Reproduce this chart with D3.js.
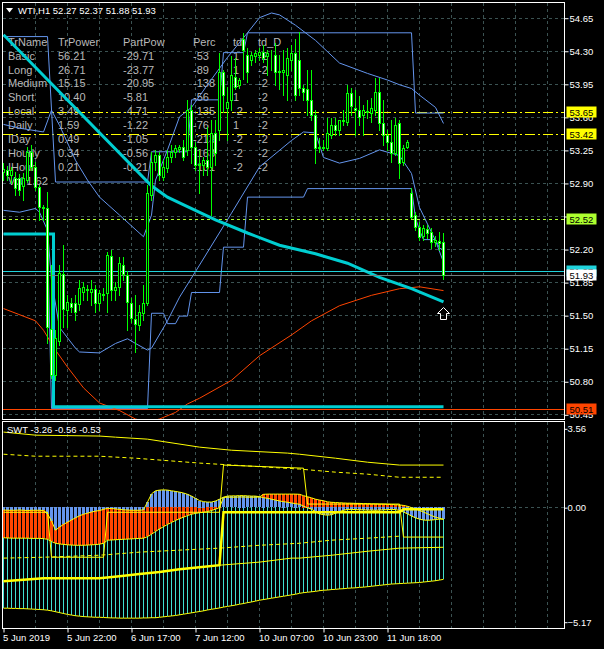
<!DOCTYPE html>
<html><head><meta charset="utf-8">
<script src="https://cdn.jsdelivr.net/npm/d3@7/dist/d3.min.js"></script>
<style>body{margin:0;background:#000;}svg{display:block;}text{font-family:"Liberation Sans",Arial,sans-serif;}</style>
</head><body>
<svg id="c" width="604" height="649"></svg>
<script>
// ---------- DATA ----------
const symbolTitle = "WTI,H1";
const lastOHLC = [52.27, 52.37, 51.88, 51.93];
const opens = [53.02,53.04,52.98,52.95,52.95,52.87,52.93,53.23,53.07,52.86,52.65,52.64,51.35,50.87,51.23,51.94,51.55,51.63,51.63,51.62,51.74,51.77,51.75,51.78,51.63,51.72,51.73,52.13,51.77,51.80,52.03,51.92,51.63,51.46,51.40,51.52,51.63,52.77,53.12,53.20,52.96,53.06,53.17,53.23,53.26,53.28,53.25,53.67,53.28,53.10,53.09,53.14,53.07,53.43,53.46,54.07,53.69,53.78,54.02,53.94,54.42,54.26,54.20,54.24,54.26,54.29,54.24,54.26,54.26,54.07,54.08,54.04,54.20,54.28,54.20,53.91,53.89,53.78,53.62,53.28,53.27,53.27,53.41,53.51,53.46,53.56,53.55,53.85,53.69,53.67,53.62,53.66,53.64,53.67,53.86,53.54,53.41,53.33,53.22,53.54,53.12,53.28,52.79,52.56,52.43,52.34,52.41,52.38,52.27,52.29,52.27];
const highs = [53.11,53.08,53.07,53.02,52.99,53.01,53.28,53.30,53.12,52.88,52.67,52.80,52.03,51.34,52.03,52.24,51.71,51.68,51.71,51.87,51.85,51.82,51.87,51.82,51.77,51.79,52.17,52.19,51.85,52.12,52.12,51.97,51.68,51.71,51.61,51.82,52.88,53.23,53.25,53.23,53.14,53.25,53.30,53.30,53.30,53.36,53.78,53.73,53.33,53.25,53.17,53.49,53.57,53.57,54.28,54.10,53.92,54.24,54.22,54.01,54.49,54.33,54.29,54.31,54.33,54.36,54.31,54.31,54.38,54.26,54.31,54.33,54.36,54.42,54.50,53.94,54.10,54.10,53.67,53.38,53.36,53.59,53.59,53.59,53.57,53.67,53.94,53.91,53.88,53.82,53.73,53.78,53.80,54.01,54.01,53.78,53.46,53.57,53.59,53.57,53.30,53.36,52.85,52.59,52.49,52.45,52.45,52.42,52.34,52.38,52.37];
const lows = [52.93,52.93,52.90,52.77,52.77,52.72,52.91,53.04,52.83,52.51,52.51,51.20,50.83,50.81,51.18,51.37,51.37,51.53,51.45,51.55,51.66,51.66,51.61,51.53,51.55,51.66,51.53,51.66,51.66,51.71,51.87,51.34,51.43,51.11,51.34,51.45,51.61,52.72,53.04,52.93,52.93,53.02,53.12,53.18,53.23,53.14,53.20,53.11,53.04,52.79,52.98,52.98,52.56,53.09,53.36,53.65,53.36,53.67,53.89,53.91,54.00,53.97,54.15,54.18,54.20,54.18,54.04,54.10,53.94,53.89,53.83,53.78,54.10,53.78,53.83,53.78,53.62,53.57,53.11,53.23,53.25,53.25,53.38,53.41,53.41,53.51,53.51,53.62,53.41,53.51,53.41,53.59,53.55,53.62,53.46,53.30,53.25,53.12,53.20,52.95,53.09,53.27,52.53,52.40,52.30,52.30,52.32,52.21,52.23,52.19,51.88];
const closes = [53.05,52.98,53.04,52.85,52.83,52.95,53.23,53.07,52.86,52.65,52.64,51.37,50.87,51.26,51.95,51.57,51.64,51.59,51.53,51.79,51.80,51.78,51.78,51.63,51.73,51.71,52.14,51.77,51.80,52.05,51.94,51.64,51.47,51.41,51.53,51.63,52.79,53.12,53.20,52.98,53.07,53.18,53.23,53.27,53.28,53.18,53.67,53.28,53.09,53.09,53.14,53.07,53.43,53.22,54.07,53.83,53.76,54.04,53.92,53.99,54.31,54.08,54.26,54.28,54.29,54.22,54.28,54.25,54.07,54.09,54.10,54.22,54.28,53.83,53.91,53.86,53.78,53.62,53.27,53.27,53.28,53.43,53.51,53.46,53.57,53.57,53.85,53.71,53.67,53.60,53.67,53.65,53.69,53.86,53.54,53.41,53.33,53.22,53.51,53.11,53.27,53.33,52.54,52.43,52.33,52.42,52.37,52.27,52.30,52.26,51.93];

// moving averages / channels as [barIndex, price] knots
const maCyan = [[0,54.47],[37,52.87],[41,52.75],[44,52.69],[53,52.51],[61,52.37],[69,52.24],[78,52.15],[86,52.05],[94,51.90],[102,51.78],[110,51.64]];
const maRed = [[0,51.57],[8,51.44],[10,51.34],[13,51.13],[16,50.95],[20,50.73],[24,50.57],[29,50.49],[33,50.40],[36,50.37],[39,50.40],[43,50.47],[46,50.56],[49,50.62],[57,50.81],[64,51.07],[72,51.29],[77,51.44],[84,51.60],[92,51.71],[99,51.78],[104,51.80],[110,51.76]];
const supportCyan = [[0,52.36],[12,52.36],[13,50.53],[110,50.53]];
const chanUpper = [[0,54.45],[11,54.45],[13,52.91],[36,52.91],[37,53.23],[46,53.23],[47,53.78],[54,53.78],[55,54.28],[60,54.28],[61,54.49],[102,54.49],[103,53.64],[110,53.64]];
const chanLower = [[0,52.36],[11,52.36],[12,50.51],[36,50.51],[37,51.52],[40,51.52],[41,51.41],[43,51.41],[44,51.49],[46,51.49],[47,51.74],[54,51.74],[55,52.22],[60,52.22],[61,52.75],[75,52.75],[76,52.84],[102,52.84],[103,52.53],[104,52.40],[105,52.30],[108,52.30],[109,52.21],[110,52.19]];
const bandUpper = [[0,53.52],[4,53.48],[10,53.44],[12,53.67],[14,53.51],[18,53.14],[21,52.93],[24,52.75],[29,52.56],[35,52.33],[37,52.56],[38,52.93],[41,53.25],[44,53.60],[47,53.70],[51,53.94],[56,54.23],[61,54.49],[64,54.65],[67,54.70],[69,54.68],[73,54.57],[78,54.41],[84,54.17],[91,54.06],[96,53.99],[99,53.94],[102,53.90],[104,53.83],[108,53.70],[110,53.53]];
const bandLower = [[0,52.61],[4,52.59],[8,52.63],[9,52.59],[11,52.40],[12,51.87],[14,51.37],[18,51.15],[19,51.11],[24,51.10],[28,51.20],[31,51.25],[33,51.20],[36,51.13],[37,51.15],[41,51.44],[44,51.69],[49,52.03],[57,52.58],[64,53.07],[72,53.35],[75,53.44],[78,53.43],[80,53.17],[84,53.11],[89,53.16],[94,53.25],[99,53.19],[102,53.00],[104,52.64],[108,52.29],[110,52.06]];

// horizontal levels
const levelsDashDot = [53.65, 53.42];
const levelDashed = 52.52;
const levelCyan = 51.97;
const levelBid = 51.93;
const levelRed = 50.51;
const arrowMark = [110, 51.52];

// price axis
const priceTicks = [54.65,54.30,53.95,53.60,53.25,52.90,52.55,52.20,51.85,51.50,51.15,50.80,50.45];
const xTickBars = [0,16,32,48,64,80,96];
const xTickLabels = ["5 Jun 2019","5 Jun 22:00","6 Jun 17:00","7 Jun 12:00","10 Jun 07:00","10 Jun 23:00","11 Jun 18:00"];

// table
const tableHeader = ["TrName","TrPower","PartPow","Perc","td","td_D"];
const trNames = ["Basic","Long","Medium","Short","Local","Daily","IDay","Hourly","IHour"];
const trPower = ["56.21","26.71","15.15","10.40","3.49","1.59","0.49","0.34","0.21"];
const partPow = ["-29.71","-23.77","-20.95","-5.81","-4.71","-1.22","-1.05","-0.56","-0.21"];
const perc = ["-53","-89","-138","-56","-135","-76","-213","-163","-101"];
const tdVals = ["1","1","1","1","-2","1","-2","-2","-2"];
const tdDVals = ["-2","-2","-2","-2","-2","-2","-2","-2","-2"];
const volRow = "Vol 1.62";

// SWT indicator
const swtTitle = "SWT -3.26 -0.56 -0.53";
const indTicks = [3.56, 0.00, -5.17];
const swtCyan = [-4.56,-4.56,-4.57,-4.57,-4.58,-4.58,-4.59,-4.60,-4.61,-4.62,-4.63,-4.65,-4.68,-4.72,-4.76,-4.80,-4.84,-4.87,-4.90,-4.92,-4.94,-4.95,-4.96,-4.97,-4.97,-4.98,-4.99,-5.00,-5.00,-5.01,-5.01,-5.01,-5.01,-5.01,-5.01,-5.00,-5.00,-4.99,-4.99,-4.97,-4.95,-4.93,-4.91,-4.89,-4.86,-4.83,-4.80,-4.77,-4.74,-4.71,-4.68,-4.64,-4.61,-4.58,-4.55,-4.51,-4.48,-4.45,-4.42,-4.38,-4.35,-4.31,-4.28,-4.24,-4.20,-4.17,-4.14,-4.11,-4.08,-4.05,-4.02,-3.99,-3.96,-3.93,-3.89,-3.86,-3.84,-3.82,-3.80,-3.77,-3.75,-3.74,-3.72,-3.71,-3.69,-3.68,-3.66,-3.65,-3.64,-3.62,-3.61,-3.59,-3.57,-3.55,-3.53,-3.51,-3.49,-3.47,-3.46,-3.45,-3.44,-3.43,-3.42,-3.41,-3.40,-3.38,-3.36,-3.34,-3.32,-3.29,-3.26];
const swtRed = [-1.38,-1.39,-1.40,-1.40,-1.40,-1.40,-1.40,-1.41,-1.41,-1.41,-1.42,-1.45,-1.55,-1.63,-1.66,-1.68,-1.70,-1.71,-1.72,-1.72,-1.72,-1.71,-1.70,-1.69,-1.67,-1.63,-1.49,-1.48,-1.47,-1.46,-1.45,-1.44,-1.43,-1.42,-1.41,-1.40,-1.33,-1.22,-1.10,-0.98,-0.88,-0.78,-0.69,-0.60,-0.52,-0.45,-0.38,-0.32,-0.28,-0.25,-0.23,-0.20,-0.15,-0.09,-0.02,0.44,0.45,0.45,0.45,0.46,0.46,0.45,0.45,0.45,0.46,0.58,0.59,0.59,0.59,0.59,0.59,0.59,0.59,0.59,0.58,0.52,0.47,0.42,0.36,0.32,0.29,0.24,0.22,0.21,0.20,0.19,0.18,0.18,0.17,0.17,0.16,0.16,0.15,0.15,0.14,0.14,0.13,0.12,0.11,0.10,0.08,0.04,-0.02,-0.08,-0.15,-0.22,-0.30,-0.38,-0.45,-0.50,-0.56];
const swtBlue = [-0.13,-0.14,-0.14,-0.14,-0.13,-0.14,-0.15,-0.14,-0.14,-0.14,-0.15,-0.30,-0.62,-1.04,-0.90,-0.78,-0.68,-0.58,-0.48,-0.39,-0.32,-0.27,-0.22,-0.18,-0.15,-0.10,-0.05,-0.06,-0.08,-0.10,-0.12,-0.13,-0.14,-0.14,-0.14,-0.12,0.23,0.60,0.74,0.77,0.78,0.77,0.74,0.71,0.68,0.64,0.58,0.50,0.40,0.30,0.25,0.23,0.23,0.28,0.36,0.45,0.50,0.51,0.51,0.52,0.52,0.51,0.50,0.50,0.47,0.43,0.40,0.36,0.32,0.28,0.25,0.22,0.19,0.16,0.13,0.05,-0.03,-0.09,-0.20,-0.30,-0.34,-0.36,-0.34,-0.27,-0.20,-0.14,-0.10,-0.10,-0.11,-0.12,-0.12,-0.13,-0.13,-0.14,-0.13,-0.12,-0.11,-0.10,-0.11,-0.15,-0.22,-0.30,-0.40,-0.48,-0.54,-0.58,-0.59,-0.58,-0.56,-0.54,-0.53];
const swtTop = [[0,3.39],[8,3.25],[24,3.21],[28,3.16],[36,3.07],[49,2.71],[57,2.57],[71,2.44],[74,2.39],[83,2.21],[91,2.03],[99,1.90],[110,1.90]];
const swtTopDash = [[0,2.39],[8,2.30],[24,2.30],[33,2.21],[49,1.99],[74,1.72],[83,1.58],[91,1.49],[99,1.35],[110,1.35]];
const swtStep = [[0,-0.23],[11,-0.23],[12,-2.26],[25,-2.26],[26,-0.23],[54,-0.23],[55,1.90],[75,1.76],[76,0.14],[99,0.14],[100,-1.35],[110,-1.35]];
const swtThick = [[0,-3.34],[10,-3.21],[24,-3.21],[29,-3.12],[34,-3.02],[39,-2.93],[44,-2.80],[49,-2.71],[54,-2.62],[55,-0.23],[99,-0.23],[100,-0.09],[110,-0.09]];
const swtLower = [[0,-3.34],[10,-3.21],[24,-3.21],[29,-3.12],[34,-3.02],[39,-2.93],[44,-2.80],[49,-2.71],[54,-2.62],[64,-2.48],[72,-2.30],[74,-2.30],[82,-2.17],[91,-1.99],[99,-1.85],[110,-1.81]];
const swtLowerDash = [[0,-2.30],[10,-2.26],[24,-2.17],[34,-2.03],[44,-1.94],[54,-1.85],[64,-1.72],[74,-1.63],[82,-1.49],[91,-1.40],[99,-1.31]];

// ---------- DRAW ----------
const svg = d3.select("#c");
const FR = {l:2.5, r:564.5, t:2.5, mb:419.5, it:421.5, ib:628.5};
const GRID = "#3b5252";
const nBars = opens.length;
const x = d3.scaleLinear().domain([0, 110]).range([3.5, 443.5]);
const y = d3.scaleLinear().domain([50.45, 54.65]).range([414.3, 17.7]);
const yi = d3.scaleLinear().domain([-5.17, 3.56]).range([621.7, 428.3]);
const gridBars = d3.range(8, 140, 8);

svg.append("rect").attr("width",604).attr("height",649).attr("fill","#000");
const defs = svg.append("defs");
defs.append("clipPath").attr("id","cm").append("rect").attr("x",3).attr("y",3).attr("width",561).attr("height",416);
defs.append("clipPath").attr("id","ci").append("rect").attr("x",3).attr("y",422).attr("width",561).attr("height",206);

// ---- main panel ----
const gm = svg.append("g").attr("clip-path","url(#cm)");
gm.selectAll(".gv").data(gridBars).enter().append("line")
  .attr("x1",d=>x(d)).attr("x2",d=>x(d)).attr("y1",3).attr("y2",419)
  .attr("stroke",GRID).attr("stroke-dasharray","3,3");
gm.selectAll(".gh").data(priceTicks).enter().append("line")
  .attr("x1",3).attr("x2",564).attr("y1",d=>Math.round(y(d))+0.5).attr("y2",d=>Math.round(y(d))+0.5)
  .attr("stroke",GRID).attr("stroke-dasharray","3,3");

// table (background text)
const tcol = "#b9b9b9";
const colX = [8,58,123,193,233,258];
const rowY = k => 45.7 + 13.9*k;
const tg = gm.append("g").attr("fill",tcol).attr("font-size","11px");
tableHeader.forEach((h,j)=>tg.append("text").attr("x",colX[j]).attr("y",rowY(0)).text(h));
const cols = [trNames, trPower, partPow, perc, tdVals, tdDVals];
trNames.forEach((n,k)=>{
  cols.forEach((c,j)=>tg.append("text").attr("x",colX[j]).attr("y",rowY(k+1)).text(c[k]));
});
tg.append("text").attr("x",colX[0]).attr("y",rowY(10)).text(volRow);

const line = d3.line().x(d=>x(d[0])).y(d=>y(d[1]));
gm.selectAll(".lvdd").data(levelsDashDot).enter().append("line")
  .attr("x1",3).attr("x2",564).attr("y1",d=>Math.round(y(d))+0.5).attr("y2",d=>Math.round(y(d))+0.5)
  .attr("stroke","#ffff00").attr("stroke-dasharray","10,3,2,3");
gm.append("line").attr("x1",3).attr("x2",564).attr("y1",Math.round(y(levelDashed))+0.5).attr("y2",Math.round(y(levelDashed))+0.5)
  .attr("stroke","#adff2f").attr("stroke-dasharray","3,3");
gm.append("line").attr("x1",3).attr("x2",564).attr("y1",Math.round(y(levelRed))+0.5).attr("y2",Math.round(y(levelRed))+0.5)
  .attr("stroke","#ff4500");

[chanUpper, chanLower, bandUpper, bandLower].forEach(s=>{
  gm.append("path").attr("d",line(s)).attr("fill","none").attr("stroke","#6495ed").attr("stroke-width",1);
});
gm.append("path").attr("d",line(maRed)).attr("fill","none").attr("stroke","#ff4500").attr("stroke-width",1);
gm.append("path").attr("d",d3.line().x(d=>x(d[0])).y(d=>y(d[1])).curve(d3.curveStep)(supportCyan))
  .attr("fill","none").attr("stroke","#00ced1").attr("stroke-width",3);
gm.append("path").attr("d",line(maCyan)).attr("fill","none").attr("stroke","#00ced1").attr("stroke-width",3);

gm.append("line").attr("x1",3).attr("x2",564).attr("y1",Math.round(y(levelCyan))+0.5).attr("y2",Math.round(y(levelCyan))+0.5)
  .attr("stroke","#1fd3dc");
gm.append("line").attr("x1",3).attr("x2",564).attr("y1",Math.round(y(levelBid))+0.5).attr("y2",Math.round(y(levelBid))+0.5)
  .attr("stroke","#6f7f80");

// candles
const bars = d3.range(nBars);
gm.selectAll(".wick").data(bars).enter().append("line")
  .attr("x1",i=>x(i)).attr("x2",i=>x(i))
  .attr("y1",i=>Math.round(y(highs[i]))).attr("y2",i=>Math.round(y(lows[i]))+1)
  .attr("stroke","#00ff00");
gm.selectAll(".body").data(bars).enter().append("rect")
  .attr("x",i=>x(i)-1).attr("width",2)
  .attr("y",i=>Math.round(y(Math.max(opens[i],closes[i])))+0.5)
  .attr("height",i=>Math.max(0, Math.round(y(Math.min(opens[i],closes[i])))-Math.round(y(Math.max(opens[i],closes[i])))))
  .attr("fill",i=>closes[i]>=opens[i]?"#000":"#fff")
  .attr("stroke","#00ff00").attr("stroke-width",1);

// arrow marker
const ax = x(arrowMark[0]), ay = Math.round(y(arrowMark[1]))+0.5;
gm.append("path").attr("d",`M${ax},${ay-6} L${ax+6},${ay} L${ax+3},${ay} L${ax+3},${ay+6} L${ax-3},${ay+6} L${ax-3},${ay} L${ax-6},${ay} Z`)
  .attr("fill","none").attr("stroke","#fff");

// header
svg.append("path").attr("d","M6,8 L13,8 L9.5,12.5 Z").attr("fill","#fff");
svg.append("text").attr("x",18).attr("y",14).attr("fill","#fff").attr("font-size","9.5px")
  .text(symbolTitle + "  " + lastOHLC.map(d=>d.toFixed(2)).join(" "));

// ---- indicator panel ----
const gi = svg.append("g").attr("clip-path","url(#ci)");
gi.selectAll(".gvi").data(gridBars).enter().append("line")
  .attr("x1",d=>x(d)).attr("x2",d=>x(d)).attr("y1",422).attr("y2",628)
  .attr("stroke",GRID).attr("stroke-dasharray","3,3");
gi.append("line").attr("x1",3).attr("x2",564).attr("y1",Math.round(yi(0))+0.5).attr("y2",Math.round(yi(0))+0.5)
  .attr("stroke",GRID).attr("stroke-dasharray","3,3");
const y0 = Math.round(yi(0));
gi.selectAll(".hc").data(bars).enter().append("line")
  .attr("x1",i=>x(i)).attr("x2",i=>x(i)).attr("y1",y0).attr("y2",i=>Math.round(yi(swtCyan[i])))
  .attr("stroke","#40e0d0");
function hist(vals, color){
  gi.selectAll(null).data(bars).enter().append("rect")
    .attr("x",i=>x(i)-1.5).attr("width",3)
    .attr("y",i=>Math.round(Math.min(yi(vals[i]), yi(0))))
    .attr("height",i=>Math.max(1,Math.round(Math.abs(yi(vals[i])-yi(0)))))
    .attr("fill",color);
}
hist(swtRed, "#ff4500");
hist(swtBlue, "#6495ed");
const li = d3.line().x(d=>x(d[0])).y(d=>yi(d[1]));
const tipLine = vals => d3.line().x((d,i)=>x(i)).y(d=>yi(d))(vals);
gi.append("path").attr("d",tipLine(swtRed)).attr("fill","none").attr("stroke","#ffff00");
gi.append("path").attr("d",tipLine(swtBlue)).attr("fill","none").attr("stroke","#ffff00");
gi.append("path").attr("d",tipLine(swtCyan)).attr("fill","none").attr("stroke","#ffff00");
gi.append("path").attr("d",li(swtTop)).attr("fill","none").attr("stroke","#ffff00");
gi.append("path").attr("d",li(swtTopDash)).attr("fill","none").attr("stroke","#ffff00").attr("stroke-dasharray","4,3");
gi.append("path").attr("d",li(swtLowerDash)).attr("fill","none").attr("stroke","#ffff00").attr("stroke-dasharray","4,3");
gi.append("path").attr("d",li(swtLower)).attr("fill","none").attr("stroke","#ffff00");
gi.append("path").attr("d",li(swtStep)).attr("fill","none").attr("stroke","#ffff00");
gi.append("path").attr("d",li(swtThick)).attr("fill","none").attr("stroke","#ffff00").attr("stroke-width",2.5);
svg.append("text").attr("x",7).attr("y",433).attr("fill","#fff").attr("font-size","9.5px").text(swtTitle);

// ---- frames ----
svg.append("rect").attr("x",FR.l).attr("y",FR.t).attr("width",FR.r-FR.l).attr("height",FR.mb-FR.t)
  .attr("fill","none").attr("stroke","#fff");
svg.append("rect").attr("x",FR.l).attr("y",FR.it).attr("width",FR.r-FR.l).attr("height",FR.ib-FR.it)
  .attr("fill","none").attr("stroke","#fff");

// ---- axes ----
function styleAxis(g){
  g.select(".domain").remove();
  g.selectAll("line").attr("stroke","#fff");
  g.selectAll("text").attr("fill","#fff").attr("font-size","9.5px")
    .attr("font-family","'Liberation Sans',Arial,sans-serif");
}
svg.append("g").attr("transform",`translate(${FR.r},0.5)`)
  .call(d3.axisRight(y).tickValues(priceTicks).tickFormat(d3.format(".2f")).tickSize(4).tickPadding(1))
  .call(styleAxis);
svg.append("g").attr("transform",`translate(${FR.r},0.5)`)
  .call(d3.axisRight(yi).tickValues(indTicks).tickFormat(d3.format(".2f")).tickSize(3).tickPadding(0))
  .call(styleAxis);
svg.append("g").attr("transform",`translate(0,${FR.ib})`)
  .call(d3.axisBottom(x).tickValues(xTickBars).tickFormat((d,i)=>xTickLabels[i]).tickSize(4).tickPadding(2))
  .call(styleAxis)
  .call(g=>g.selectAll("text").attr("text-anchor","start").attr("x",-1));

// ---- price labels ----
const priceLabels = [
  {v:levelsDashDot[0], bg:"#ffff00", fg:"#000"},
  {v:levelsDashDot[1], bg:"#ffff00", fg:"#000"},
  {v:levelDashed, bg:"#adff2f", fg:"#000"},
  {v:levelCyan, bg:"#1fd3dc", fg:"#000"},
  {v:levelBid, bg:"#fff", fg:"#000"},
  {v:levelRed, bg:"#ff4500", fg:"#000"}
];
priceLabels.forEach(p=>{
  const cy = Math.round(y(p.v));
  svg.append("rect").attr("x",566.5).attr("y",cy-5.5).attr("width",30).attr("height",11).attr("fill",p.bg);
  svg.append("text").attr("x",569.5).attr("y",cy+3.5).attr("fill",p.fg).attr("font-size","9.5px").text(p.v.toFixed(2));
});
</script>
</body></html>
